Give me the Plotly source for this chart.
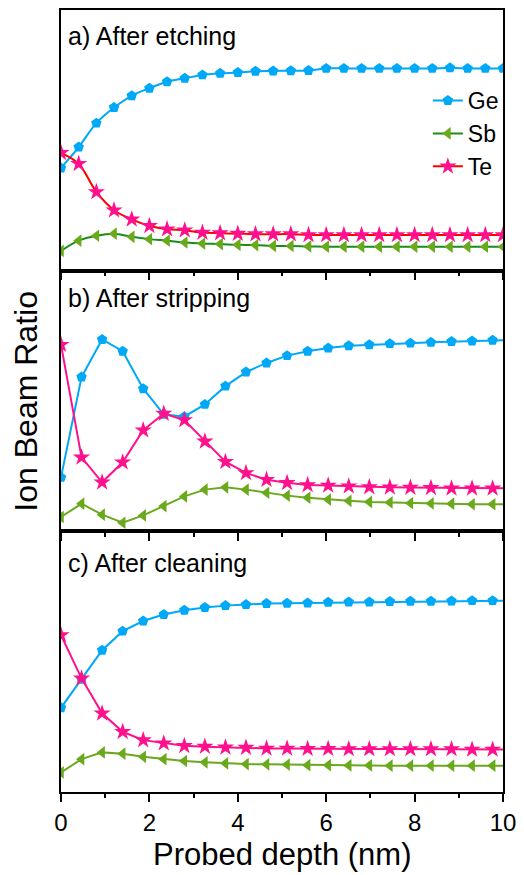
import plotly.graph_objects as go
from plotly.subplots import make_subplots

# ---- data (arbitrary ion-beam-ratio units, 0-100 per panel) ----
x_a = [round(0.4 * i, 3) for i in range(26)]
ge_a = [39.4, 47.4, 56.6, 62.6, 67.1, 70.0, 72.5, 73.8, 75.1, 75.7, 76.0, 76.5, 76.6,
        76.7, 76.8, 77.6, 77.6, 77.6, 77.6, 77.6, 77.6, 77.6, 77.8, 77.6, 77.6, 77.6]
sb_a = [7.6, 11.5, 13.4, 14.2, 13.0, 12.1, 11.5, 10.8, 10.4, 10.2, 9.9, 9.8, 9.5,
        9.5, 9.3, 9.2, 9.2, 9.2, 9.2, 9.2, 9.2, 9.2, 9.2, 9.2, 9.2, 9.2]
te_a = [45.2, 41.0, 30.2, 23.2, 19.7, 17.2, 15.9, 15.5, 14.6, 14.4, 14.2, 14.0, 14.0,
        14.0, 13.7, 13.7, 13.7, 13.7, 13.7, 13.7, 13.7, 13.7, 13.7, 13.7, 13.7, 13.7]

x_b = [round(0.465 * i, 3) for i in range(23)]
ge_b = [20.7, 59.2, 73.6, 69.1, 54.7, 44.9, 44.0, 48.7, 55.7, 61.1, 64.6, 67.4, 69.1,
        70.3, 71.2, 71.6, 72.0, 72.2, 72.5, 72.8, 73.0, 73.3, 73.4]
sb_b = [5.5, 10.6, 6.4, 3.3, 6.1, 9.7, 13.4, 16.0, 16.9, 16.0, 14.8, 13.7, 12.9,
        12.2, 11.7, 11.3, 11.1, 10.8, 10.7, 10.6, 10.4, 10.4, 10.4]
te_b = [71.6, 28.4, 18.8, 26.5, 38.8, 45.2, 42.7, 34.5, 26.7, 22.4, 19.8, 18.6, 17.8,
        17.6, 17.3, 17.0, 16.9, 16.8, 16.7, 16.5, 16.5, 16.5, 16.5]

x_c = [round(0.465 * i, 3) for i in range(23)]
ge_c = [32.3, 43.2, 54.4, 61.7, 65.6, 68.1, 69.7, 70.8, 71.5, 71.9, 72.3, 72.4, 72.5,
        72.8, 72.9, 72.9, 73.1, 73.2, 73.2, 73.3, 73.4, 73.4, 73.4]
sb_c = [7.5, 12.6, 15.2, 14.7, 13.5, 12.6, 11.9, 11.4, 11.0, 10.7, 10.6, 10.5, 10.3,
        10.3, 10.2, 10.2, 10.1, 10.1, 10.1, 10.1, 10.1, 10.1, 10.1]
te_c = [60.2, 43.6, 30.2, 23.1, 19.9, 18.7, 17.7, 17.4, 17.1, 17.0, 16.7, 16.7, 16.6,
        16.6, 16.5, 16.5, 16.5, 16.5, 16.5, 16.5, 16.3, 16.3, 16.3]

panel_labels = ["a) After etching", "b) After stripping", "c) After cleaning"]
x_ticks = [0, 2, 4, 6, 8, 10]

GE = "#00a8f8"
SB_M = "#6aa81c"
SB_L_A = "#168f16"
TE_M = "#ff108c"
TE_L_A = "#ff0000"
FONT = "Liberation Sans, Arial, sans-serif"

fig = make_subplots(rows=3, cols=1, shared_xaxes=True, vertical_spacing=0)

panels = [
    (x_a, ge_a, sb_a, te_a, SB_L_A, TE_L_A, "spline", True),
    (x_b, ge_b, sb_b, te_b, SB_M, TE_M, "linear", False),
    (x_c, ge_c, sb_c, te_c, SB_M, TE_M, "linear", False),
]
for r, (xs, ge, sb, te, sbl, tel, shape, leg) in enumerate(panels, start=1):
    fig.add_trace(go.Scatter(x=xs, y=ge, name="Ge", mode="lines+markers",
                             line=dict(color=GE, width=2, shape=shape),
                             marker=dict(symbol="pentagon", size=11, color=GE),
                             showlegend=leg, legendgroup="ge"), row=r, col=1)
    fig.add_trace(go.Scatter(x=xs, y=sb, name="Sb", mode="lines+markers",
                             line=dict(color=sbl, width=2, shape=shape),
                             marker=dict(symbol="triangle-left", size=11, color=SB_M),
                             showlegend=leg, legendgroup="sb"), row=r, col=1)
    fig.add_trace(go.Scatter(x=xs, y=te, name="Te", mode="lines+markers",
                             line=dict(color=tel, width=2, shape=shape),
                             marker=dict(symbol="star", size=13, color=TE_M),
                             showlegend=leg, legendgroup="te"), row=r, col=1)

for r in range(1, 4):
    fig.update_xaxes(range=[0, 10], showline=True, linecolor="black", linewidth=1.5,
                     mirror=True, ticks="outside", ticklen=8, tickwidth=1.5,
                     tickcolor="black", tickvals=x_ticks, showgrid=False, zeroline=False,
                     minor=dict(dtick=1, ticks="outside", ticklen=4, tickwidth=1.5,
                                tickcolor="black", showgrid=False),
                     tickfont=dict(size=24, color="black", family=FONT),
                     row=r, col=1)
    fig.update_yaxes(range=[0, 100], showline=True, linecolor="black", linewidth=1.5,
                     mirror=True, ticks="", showticklabels=False, showgrid=False,
                     zeroline=False, row=r, col=1)

ylabel_pos = [0.9, 0.897, 0.88]
for r in range(1, 4):
    sfx = "" if r == 1 else str(r)
    fig.add_annotation(text=panel_labels[r - 1], xref=f"x{sfx} domain", yref=f"y{sfx} domain",
                       x=0.012, y=ylabel_pos[r - 1], xanchor="left", yanchor="middle",
                       showarrow=False, font=dict(size=25, color="black", family=FONT))

fig.add_annotation(text="Ion Beam Ratio", xref="paper", yref="paper", x=-0.08, y=0.5,
                   textangle=-90, showarrow=False, xanchor="center", yanchor="middle",
                   font=dict(size=32, color="black", family=FONT))
fig.add_annotation(text="Probed depth (nm)", xref="paper", yref="paper", x=0.5, y=-0.080,
                   showarrow=False, xanchor="center", yanchor="middle",
                   font=dict(size=31, color="black", family=FONT))

fig.update_layout(
    width=524, height=875,
    margin=dict(l=61, r=14, t=8, b=83),
    paper_bgcolor="white", plot_bgcolor="white",
    font=dict(family=FONT, color="black"),
    legend=dict(x=0.83, y=0.842, xanchor="left", yanchor="middle",
                bgcolor="rgba(0,0,0,0)", traceorder="grouped", tracegroupgap=0,
                font=dict(size=23, color="black", family=FONT)),
)

fig.write_html("out.html")
